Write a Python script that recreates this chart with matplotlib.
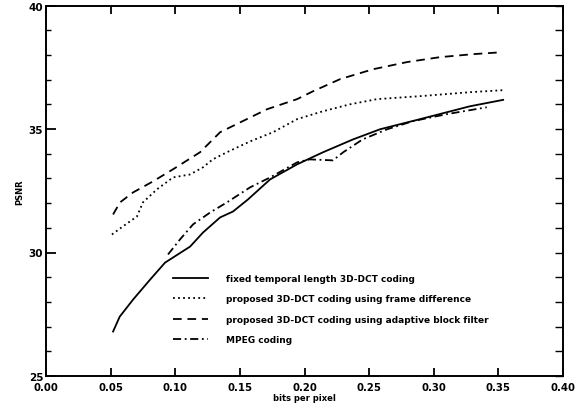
import matplotlib
matplotlib.use("Agg")
import matplotlib.pyplot as plt
from matplotlib.ticker import MultipleLocator

# ---- data ----
fixed_x = [0.0519, 0.057, 0.0673, 0.0805, 0.0921, 0.1115, 0.1215, 0.1347, 0.1447, 0.1563,
           0.1734, 0.1943, 0.2144, 0.2376, 0.2585, 0.2895, 0.328, 0.3537]
fixed_y = [26.80, 27.40, 28.09, 28.90, 29.59, 30.24, 30.81, 31.42, 31.66, 32.15,
           32.96, 33.57, 34.06, 34.58, 34.99, 35.40, 35.92, 36.18]

framediff_x = [0.051, 0.0596, 0.0704, 0.075, 0.0859, 0.0983, 0.1115, 0.1215, 0.129, 0.140,
               0.158, 0.1757, 0.1943, 0.2144, 0.2353, 0.2562, 0.2895, 0.328, 0.353]
framediff_y = [30.73, 31.06, 31.46, 32.03, 32.56, 33.04, 33.16, 33.45, 33.77, 34.06,
               34.50, 34.87, 35.40, 35.72, 36.00, 36.21, 36.33, 36.49, 36.57]

adaptive_x = [0.0519, 0.0573, 0.0673, 0.0828, 0.0983, 0.1192, 0.1347, 0.171, 0.1943,
              0.2067, 0.2276, 0.2531, 0.2794, 0.305, 0.3305, 0.353]
adaptive_y = [31.54, 32.03, 32.43, 32.88, 33.37, 34.06, 34.87, 35.80, 36.21,
              36.53, 37.02, 37.42, 37.71, 37.91, 38.03, 38.11]

mpeg_x = [0.0944, 0.1037, 0.1138, 0.127, 0.140, 0.158, 0.1734, 0.1943, 0.204, 0.222,
          0.230, 0.245, 0.264, 0.284, 0.310, 0.341]
mpeg_y = [29.92, 30.53, 31.14, 31.62, 32.03, 32.64, 33.04, 33.65, 33.77, 33.73,
          34.06, 34.58, 34.99, 35.32, 35.60, 35.88]

labels = ["fixed temporal length 3D-DCT coding",
          "proposed 3D-DCT coding using frame difference",
          "proposed 3D-DCT coding using adaptive block filter",
          "MPEG coding"]

x_ticks = [0.00, 0.05, 0.10, 0.15, 0.20, 0.25, 0.30, 0.35, 0.40]
y_ticks = [25, 30, 35, 40]

# ---- figure ----
fig = plt.figure(figsize=(5.83, 4.06), dpi=100)
ax = fig.add_axes([46/583, 1-377/406, 517/583, (377-6.5)/406])

lw = 1.3
ax.plot(fixed_x, fixed_y, color="black", lw=lw, linestyle="-", label=labels[0])
ax.plot(framediff_x, framediff_y, color="black", lw=lw, linestyle=(0, (1, 1.8)), label=labels[1])
ax.plot(adaptive_x, adaptive_y, color="black", lw=lw, linestyle=(0, (4.8, 3.2)), label=labels[2])
ax.plot(mpeg_x, mpeg_y, color="black", lw=lw, linestyle=(0, (4.5, 2, 1, 2)), label=labels[3])

ax.set_xlim(0, 0.40)
ax.set_ylim(25, 40)
ax.set_xticks(x_ticks)
ax.set_xticklabels([f"{v:.2f}" for v in x_ticks])
ax.set_yticks(y_ticks)
ax.set_yticklabels([str(v) for v in y_ticks])
ax.yaxis.set_minor_locator(MultipleLocator(1))

for s in ax.spines.values():
    s.set_linewidth(1.4)

ax.tick_params(axis="x", which="major", direction="in", length=6, width=1.3,
               top=True, bottom=True, labelsize=7.3, pad=4)
ax.tick_params(axis="y", which="major", direction="in", length=7, width=1.3,
               left=True, right=False, labelsize=7.5, pad=2)
ax.tick_params(axis="y", which="minor", direction="in", length=3.5, width=1.0,
               left=True, right=False)
for lab in ax.get_xticklabels() + ax.get_yticklabels():
    lab.set_fontweight("bold")

# right-side ticks every unit
ax2 = ax.twinx()
ax2.set_ylim(25, 40)
ax2.yaxis.set_major_locator(MultipleLocator(1))
ax2.tick_params(axis="y", direction="in", length=6, width=1.0, labelright=False)
for s in ax2.spines.values():
    s.set_visible(False)

ax.set_xlabel("bits per pixel", fontsize=6, fontweight="bold", labelpad=1)
ax.set_ylabel("PSNR", fontsize=6, fontweight="bold", labelpad=3)

leg = ax.legend(loc="upper left", bbox_to_anchor=(0.246, 0.275), frameon=False,
                fontsize=6.5, handlelength=3.9, handletextpad=1.9, labelspacing=1.25,
                borderpad=0, borderaxespad=0)
for t in leg.get_texts():
    t.set_fontweight("bold")

fig.savefig("out.png", dpi=100)
